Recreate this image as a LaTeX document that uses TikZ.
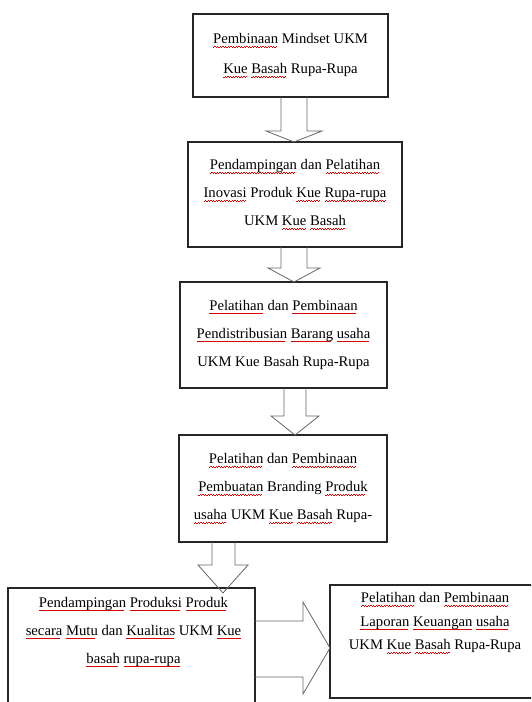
\documentclass[tikz,border=0pt]{standalone}
\usepackage{fontspec}
\setmainfont{Liberation Serif}
\usetikzlibrary{calc}
% red wavy spell-check underline
\newcommand\sq[1]{\setbox0\hbox{#1}\rlap{\color{red!85!black}\hbox to \wd0{\leaders\hbox to 2pt{\rule[-2.7pt]{1pt}{0.5pt}\rule[-2.2pt]{1pt}{0.5pt}}\hfill}}\box0\relax}

\begin{document}
\begin{tikzpicture}[x=0.75pt, y=-0.75pt,
  box/.style={draw=black!85, line width=0.9pt, inner sep=0pt, outer sep=0pt, align=center, font=\fontsize{11}{21}\selectfont},
  txt/.style={align=center, inner sep=0pt, font=\fontsize{11}{21}\selectfont},
  blockarr/.style={draw=black!60, line width=0.6pt, line join=miter}]
		%%%%% START %%%%%
		\useasboundingbox (0,0) rectangle (531,702);
		\clip (0,0) rectangle (531,702);
		
		\node[box, minimum width=146.25pt, minimum height=62.25pt, font=\fontsize{11}{22.5}\selectfont] (b1) at (290.5,55.5)
			{\sq{Pembinaan} Mindset UKM\\ \sq{Kue} \sq{Basah} Rupa-Rupa};
		\node[box, minimum width=160.5pt, minimum height=78.75pt] (b2) at (295,194.5)
			{\sq{Pendampingan} dan \sq{Pelatihan}\\ \sq{Inovasi} Produk \sq{Kue} \sq{Rupa-rupa}\\ UKM \sq{Kue} \sq{Basah}};
		\node[box, minimum width=155.25pt, minimum height=79.5pt] (b3) at (283.5,335)
			{\sq{Pelatihan} dan \sq{Pembinaan}\\ \sq{Pendistribusian} \sq{Barang} \sq{usaha}\\ UKM Kue Basah Rupa-Rupa};
		\node[box, minimum width=156pt, minimum height=80.25pt] (b4) at (283,488.5)
			{\sq{Pelatihan} dan \sq{Pembinaan}\\ \sq{Pembuatan} Branding \sq{Produk}\\ \sq{usaha} UKM \sq{Kue} \sq{Basah} Rupa-};
		
		\node[box, minimum width=185.25pt, minimum height=99pt] (b5) at (131.5,654) {};
		\node[txt] (t5) at ($(b5.north)+(2,44)$)
			{\sq{Pendampingan} \sq{Produksi} \sq{Produk}\\ \sq{secara} \sq{Mutu} dan \sq{Kualitas} UKM \sq{Kue}\\ \sq{basah} \sq{rupa-rupa}};
		\node[box, minimum width=157.5pt, minimum height=84.75pt] (b6) at (435,641.5) {};
		\node[txt, font=\fontsize{11}{17.5}\selectfont] (t6) at ($(b6.north)+(0,38)$)
			{\sq{Pelatihan} dan \sq{Pembinaan}\\ \sq{Laporan} \sq{Keuangan} \sq{usaha}\\ UKM \sq{Kue} \sq{Basah} Rupa-Rupa};
		
		% block arrows
		\draw[blockarr] (281,0 |- b1.south) -- ($(281,0 |- b2.north)+(0,-11)$) -- ++(-15,0) -- (294,0 |- b2.north) -- ++(28,-11) -- ++(-15,0) -- (307,0 |- b1.south);
		\draw[blockarr] (281,0 |- b2.south) -- ($(281,0 |- b3.north)+(0,-14)$) -- ++(-13,0) -- (294,0 |- b3.north) -- ++(26,-14) -- ++(-13,0) -- (307,0 |- b2.south);
		\draw[blockarr] (284,0 |- b3.south) -- ($(284,0 |- b4.north)+(0,-19)$) -- ++(-13,0) -- (295,0 |- b4.north) -- ++(24,-19) -- ++(-13,0) -- (306,0 |- b3.south);
		\draw[blockarr] (212,0 |- b4.south) -- ($(212,0 |- b5.north)+(0,-23)$) -- ++(-14,0) -- ($(223,0 |- b5.north)+(0,5)$) -- ($(248,0 |- b5.north)+(0,-23)$) -- ++(-13,0) -- (235,0 |- b4.south);
		\draw[blockarr] (b5.east |- 0,621) -- (303,621) -- (303,602) -- (b6.west |- 0,648) -- (303,694) -- (303,677) -- (b5.east |- 0,677);
		
		%%%%% END %%%%%
\end{tikzpicture}
\end{document}
